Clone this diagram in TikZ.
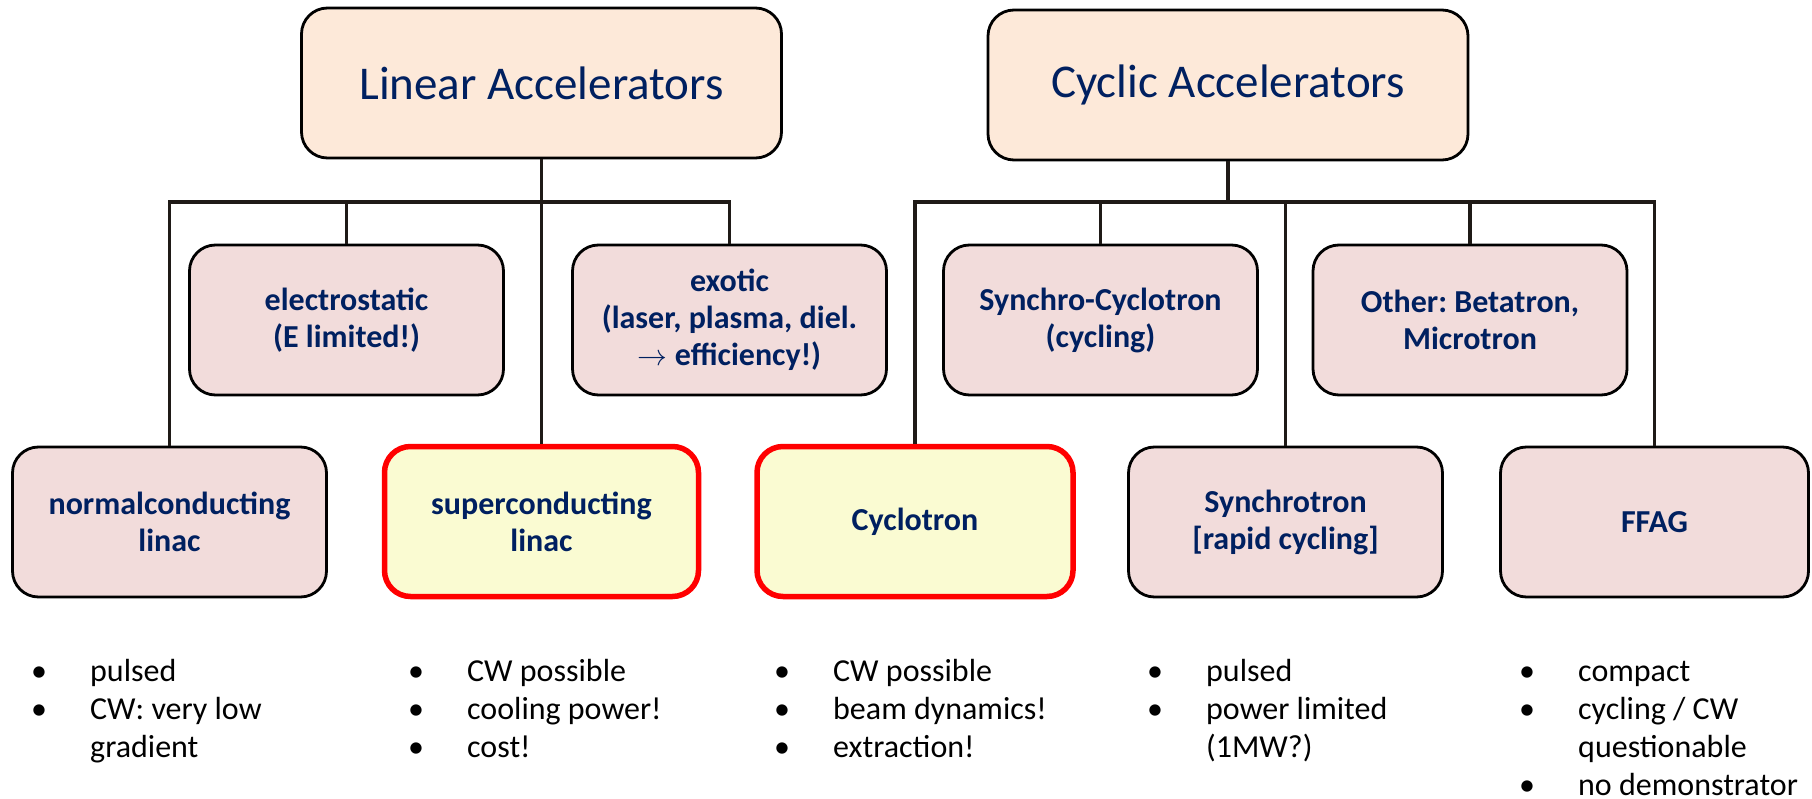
\documentclass[tikz,border=0pt]{standalone}
\usepackage{fontspec}
\setmainfont{Carlito}
\frenchspacing
\definecolor{navy}{HTML}{002060}
\definecolor{topfill}{HTML}{FDE9D9}
\definecolor{midfill}{HTML}{F2DCDB}
\definecolor{hlfill}{HTML}{FAFBD2}
\definecolor{linecol}{HTML}{1F1A17}
\tikzset{
  basebox/.style={draw=black, line width=2.8pt, rounded corners=26pt, align=center, text=navy, inner sep=0pt},
  topbox/.style={basebox, fill=topfill, minimum width=480pt, minimum height=150pt, font=\fontsize{47}{56}\selectfont},
  midbox/.style={basebox, fill=midfill, minimum width=314pt, minimum height=150pt, font=\bfseries\fontsize{32}{37}\selectfont},
  hlbox/.style={midbox, fill=hlfill, draw=red, line width=5.5pt},
  conn/.style={draw=linecol, line width=3.8pt},
  listnode/.style={anchor=base west, inner sep=0pt, text=black, font=\fontsize{32}{38}\selectfont},
}
\newcommand{\bul}{\makebox[59pt][l]{•}}
\begin{document}
\begin{tikzpicture}[x=1pt,y=-1pt]
\useasboundingbox (0,0) rectangle (1812,799);
% top level
\node[topbox] (lin) at (541.5,83) {Linear Accelerators};
\node[topbox] (cyc) at (1228,85) {Cyclic Accelerators};
% middle row
\node[midbox] (es) at (346.5,320) {electrostatic\\(E limited!)};
\node[midbox] (ex) at (729.5,320) {exotic\\(laser, plasma, diel.\\\scalebox{1.2}{\ensuremath{\rightarrow}} efficiency!)};
\node[midbox] (sc) at (1100.5,320) {Synchro-Cyclotron\\(cycling)};
\node[midbox] (ot) at (1470,320) {Other: Betatron,\\Microtron};
% bottom row
\node[midbox] (nc) at (169.5,522) {normalconducting\\linac};
\node[hlbox] (su) at (541.5,521.5) {superconducting\\linac};
\node[hlbox, minimum width=316pt] (cy) at (915,521.5) {Cyclotron};
\node[midbox] (sy) at (1285.5,522) {Synchrotron\\{[rapid cycling]}};
\node[midbox, minimum width=308pt] (ff) at (1654.5,522) {FFAG};
% connectors
\draw[conn] (lin.south) -- ++(0,43) -| (nc.north);
\draw[conn] (lin.south) -- ++(0,43) -| (es.north);
\draw[conn] (lin.south) -- ++(0,43) -| (ex.north);
\draw[conn] (lin.south) -- (su.north);
\draw[conn] (cyc.south) -- ++(0,41) -| (cy.north);
\draw[conn] (cyc.south) -- ++(0,41) -| (sc.north);
\draw[conn] (cyc.south) -- ++(0,41) -| (ot.north);
\draw[conn] (cyc.south) -- ++(0,41) -| (sy.north);
\draw[conn] (cyc.south) -- ++(0,41) -| (ff.north);
% lists
\node[listnode] (l1) at (31,681) {\begin{tabular}[t]{@{}l@{}l@{}}\bul&pulsed\\\bul&CW: very low\\&gradient\end{tabular}};
\node[listnode] (l2) at (408,681) {\begin{tabular}[t]{@{}l@{}l@{}}\bul&CW possible\\\bul&cooling power!\\\bul&cost!\end{tabular}};
\node[listnode] (l3) at (774,681) {\begin{tabular}[t]{@{}l@{}l@{}}\bul&CW possible\\\bul&beam dynamics!\\\bul&extraction!\end{tabular}};
\node[listnode] (l4) at (1147,681) {\begin{tabular}[t]{@{}l@{}l@{}}\bul&pulsed\\\bul&power limited\\&(1MW?)\end{tabular}};
\node[listnode] (l5) at (1519,681) {\begin{tabular}[t]{@{}l@{}l@{}}\bul&compact\\\bul&cycling / CW\\&questionable\\\bul&no demonstrator\end{tabular}};
\end{tikzpicture}
\end{document}
